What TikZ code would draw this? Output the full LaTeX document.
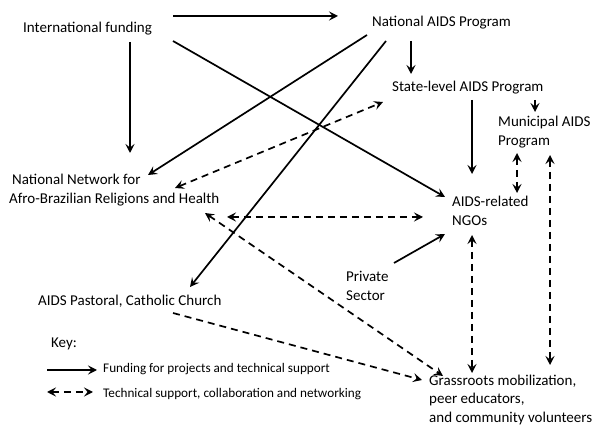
\documentclass[tikz,border=0pt]{standalone}
\usepackage{fontspec}
\setmainfont{Carlito}
\usetikzlibrary{arrows.meta}
\begin{document}
\begin{tikzpicture}[x=1pt,y=-1pt,
  lbl/.style={anchor=west,inner sep=0pt,align=left,font=\fontsize{15}{18.5}\selectfont},
  keylbl/.style={anchor=west,inner sep=0pt,font=\fontsize{13.2}{15}\selectfont},
  tip/.style={Stealth[length=9pt,width=9pt,inset=3.5pt]},
  fund/.style={line width=1.7pt,-{Stealth[length=9pt,width=9pt,inset=3.5pt]}},
  tech/.style={line width=1.7pt,dash pattern=on 7pt off 5pt,{Stealth[length=9pt,width=9pt,inset=3.5pt]}-{Stealth[length=9pt,width=9pt,inset=3.5pt]}},
  techone/.style={line width=1.7pt,dash pattern=on 7pt off 5pt,-{Stealth[length=9pt,width=9pt,inset=3.5pt]}}]
\useasboundingbox (0,0) rectangle (600,435);
% nodes
\node[lbl] (intl) at (23,29) {International funding};
\node[lbl] (nap) at (372,23) {National AIDS Program};
\node[lbl] (state) at (392,88) {State-level AIDS Program};
\node[lbl] (mun) at (498,132) {Municipal AIDS\\Program};
\node[lbl] (ngo) at (452,211) {AIDS-related\\NGOs};
\node[lbl] (afro) at (9,190) {\hspace*{3pt}National Network for\\Afro-Brazilian Religions and Health};
\node[lbl] (past) at (38,301) {AIDS Pastoral, Catholic Church};
\node[lbl] (priv) at (346,286) {Private\\Sector};
\node[lbl] (grass) at (429,400) {Grassroots mobilization,\\peer educators,\\and community volunteers};
\node[lbl] (key) at (51,344) {Key:};
\node[keylbl] (k1) at (103,369) {Funding for projects and technical support};
\node[keylbl] (k2) at (103,394) {Technical support, collaboration and networking};
% connector end points
\coordinate (a1) at (173,16);  \coordinate (b1) at (338,16);
\coordinate (a2) at (130,42);  \coordinate (b2) at (130,153);
\coordinate (a3) at (173,41);  \coordinate (b3) at (445,197);
\coordinate (a4) at (367,35);  \coordinate (b4) at (148,175);
\coordinate (a5) at (386,41);  \coordinate (b5) at (190,287);
\coordinate (a6) at (411,41);  \coordinate (b6) at (411,74);
\coordinate (a7) at (472,100); \coordinate (b7) at (472,174);
\coordinate (a8) at (535,100); \coordinate (b8) at (535,112);
\coordinate (a9) at (394,263); \coordinate (b9) at (445,234);
\coordinate (c1) at (175,188); \coordinate (d1) at (383,102);
\coordinate (c2) at (227,217); \coordinate (d2) at (423,217);
\coordinate (c3) at (205,213); \coordinate (d3) at (443,376);
\coordinate (c4) at (173,313); \coordinate (d4) at (422,380);
\coordinate (c5) at (472,235); \coordinate (d5) at (472,373);
\coordinate (c6) at (517,153); \coordinate (d6) at (517,193);
\coordinate (c7) at (550,155); \coordinate (d7) at (550,365);
\coordinate (ka) at (47,370);  \coordinate (kb) at (97,370);
\coordinate (kc) at (47,392);  \coordinate (kd) at (93,392);
% funding
\draw[fund] (a1) -- (b1);
\draw[fund] (a2) -- (b2);
\draw[fund] (a3) -- (b3);
\draw[fund] (a4) -- (b4);
\draw[fund] (a5) -- (b5);
\draw[fund] (a6) -- (b6);
\draw[fund] (a7) -- (b7);
\draw[fund] (a8) -- (b8);
\draw[fund] (a9) -- (b9);
% technical
\draw[tech] (c1) -- (d1);
\draw[tech] (c2) -- (d2);
\draw[tech] (c3) -- (d3);
\draw[techone] (c4) -- (d4);
\draw[tech] (c5) -- (d5);
\draw[tech] (c6) -- (d6);
\draw[tech] (c7) -- (d7);
% key
\draw[fund] (ka) -- (kb);
\draw[tech] (kc) -- (kd);
\end{tikzpicture}
\end{document}
